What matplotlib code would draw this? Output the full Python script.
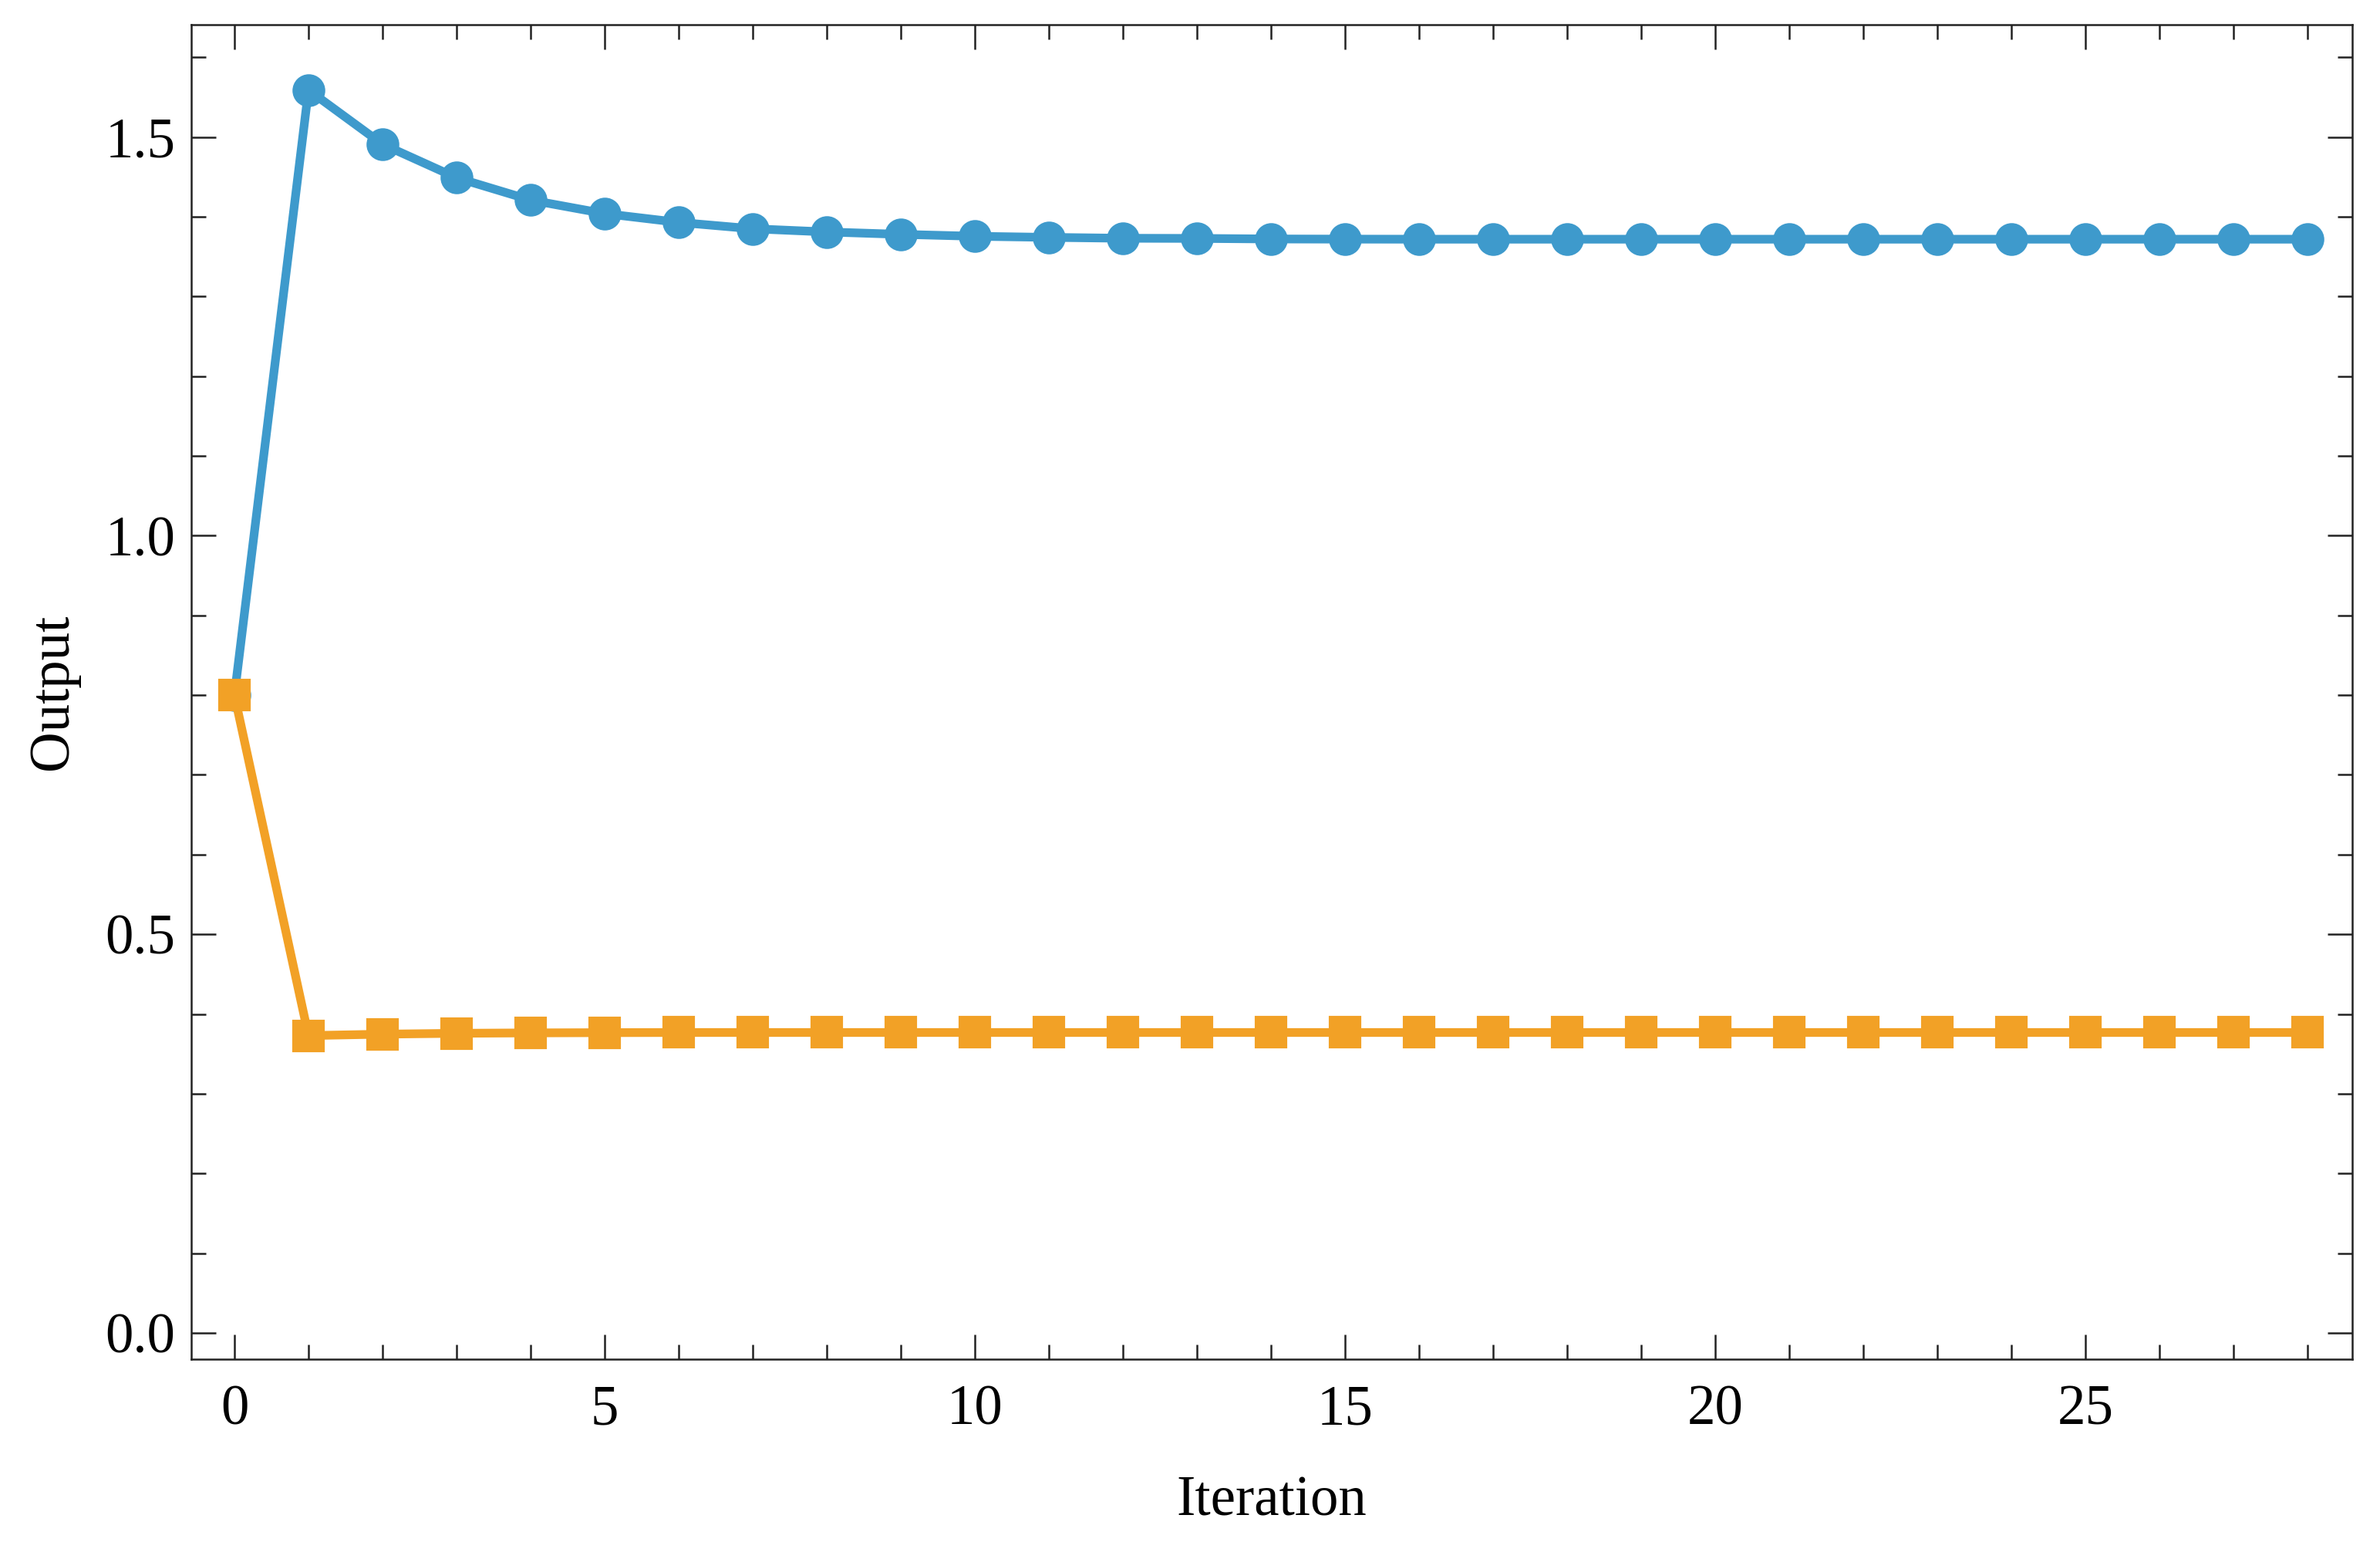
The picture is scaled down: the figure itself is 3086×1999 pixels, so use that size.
import numpy as np
import matplotlib
matplotlib.use("Agg")
import matplotlib.pyplot as plt
from matplotlib.ticker import MultipleLocator

# valores
iteration = list(range(29))
out_a = [0.800, 1.559, 1.491, 1.449, 1.421, 1.404, 1.393, 1.385, 1.381, 1.378,
         1.3756, 1.3742, 1.3731, 1.3729, 1.3722, 1.3720, 1.3719, 1.3719, 1.3719,
         1.3719, 1.3719, 1.3719, 1.3719, 1.3719, 1.3719, 1.3719, 1.3719, 1.3719,
         1.3719]
out_b = [0.800, 0.3729, 0.3747, 0.3758, 0.3763, 0.3766, 0.3768, 0.3768, 0.3768,
         0.3768, 0.3768, 0.3768, 0.3768, 0.3768, 0.3768, 0.3768, 0.3768, 0.3768,
         0.3768, 0.3768, 0.3768, 0.3768, 0.3768, 0.3768, 0.3768, 0.3768, 0.3768,
         0.3768, 0.3768]

BLUE   = "#3E9ACC"
ORANGE = "#F2A126"
FS     = 17.5

plt.rcParams['font.family'] = ['Liberation Serif', 'DejaVu Serif']
plt.rcParams['mathtext.fontset'] = 'stix'

fig = plt.figure(figsize=(3086/300, 1999/300), dpi=300)
ax = fig.add_axes([248/3086, 1 - 1762/1999, (3050-248)/3086, (1762-32)/1999])

ax.plot(iteration, out_a, '-o', color=BLUE, lw=2.7, ms=9.2, zorder=3)
ax.plot(iteration, out_b, '-s', color=ORANGE, lw=2.7, ms=9.0, zorder=4)

ax.set_xlim(-0.583, 28.6)
ax.set_ylim(-0.033, 1.641)

ax.xaxis.set_major_locator(MultipleLocator(5))
ax.xaxis.set_minor_locator(MultipleLocator(1))
ax.yaxis.set_major_locator(MultipleLocator(0.5))
ax.yaxis.set_minor_locator(MultipleLocator(0.1))
ax.yaxis.set_major_formatter(lambda v, p: f"{v:.1f}")

ax.tick_params(which='both', direction='in', top=True, right=True,
               width=0.6, labelsize=FS, color='#222222')
ax.tick_params(which='major', length=7.7, pad=8)
ax.tick_params(which='minor', length=4.6)
ax.tick_params(axis='y', which='major', pad=5)
for s in ax.spines.values():
    s.set_linewidth(0.6)
    s.set_color('#222222')

ax.set_xlabel('Iteration', fontsize=FS, labelpad=12)
ax.set_ylabel('Output', fontsize=FS, labelpad=8)

fig.savefig('out.png', dpi=300)
